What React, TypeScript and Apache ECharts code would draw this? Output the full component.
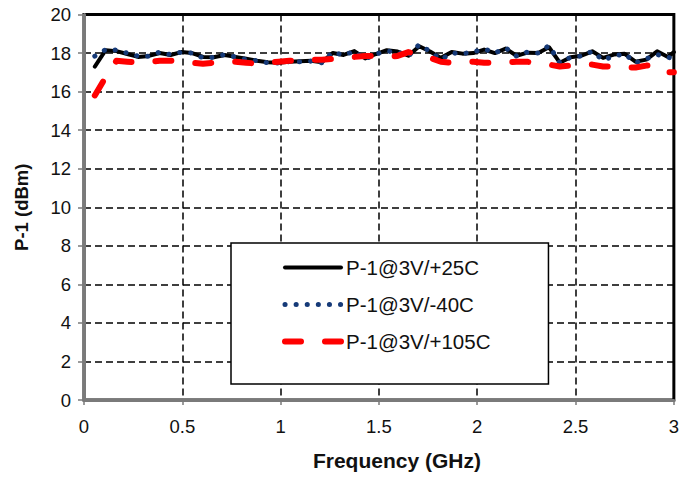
import React, { useEffect, useRef } from "react";
import * as echarts from "echarts";

const freqGHz = [
  0.055, 0.11, 0.165, 0.22, 0.275, 0.33, 0.385, 0.44, 0.495, 0.55,
  0.605, 0.66, 0.715, 0.77, 0.825, 0.88, 0.935, 0.99, 1.045, 1.1,
  1.155, 1.21, 1.265, 1.32, 1.375, 1.43, 1.485, 1.54, 1.595, 1.65,
  1.705, 1.76, 1.815, 1.87, 1.925, 1.98, 2.035, 2.09, 2.145, 2.2,
  2.255, 2.31, 2.365, 2.42, 2.475, 2.53, 2.585, 2.64, 2.695, 2.75,
  2.805, 2.86, 2.915, 2.97, 3.0,
];

const p1_25C = [
  17.3, 18.15, 18.1, 17.95, 17.8, 17.85, 18.0, 17.9, 18.05, 18.0,
  17.8, 17.78, 17.9, 17.8, 17.7, 17.6, 17.52, 17.5, 17.55, 17.58,
  17.6, 17.52, 18.0, 17.9, 18.1, 17.72, 17.95, 18.15, 18.08, 17.86,
  18.35, 18.08, 17.75, 18.05, 17.97, 18.0, 18.18, 18.0, 18.23, 17.86,
  18.02, 18.0, 18.3, 17.5, 17.78, 17.86, 18.09, 17.75, 17.92, 17.96,
  17.55, 17.66, 18.09, 17.8, 18.05,
];

const p1_m40C = [
  17.84, 18.18, 18.15, 18.0, 17.84, 17.84, 18.05, 17.92, 18.05, 18.0,
  17.75, 17.78, 17.92, 17.8, 17.66, 17.6, 17.49, 17.49, 17.55, 17.55,
  17.58, 17.49, 18.05, 17.89, 18.09, 17.69, 17.95, 18.1, 18.05, 17.84,
  18.44, 18.09, 17.66, 18.0, 17.97, 18.05, 18.22, 18.0, 18.27, 17.84,
  18.05, 18.0, 18.39, 17.49, 17.78, 17.84, 18.09, 17.63, 17.84, 17.96,
  17.49, 17.7, 17.92, 17.78, 17.7,
];

const p1_105C = [
  15.8, 16.75, 17.6, 17.55, 17.5, 17.55, 17.6, 17.6, 17.55, 17.5,
  17.45, 17.5, 17.55, 17.55, 17.5, 17.45, 17.5, 17.55, 17.6, 17.6,
  17.65, 17.65, 17.7, 17.75, 17.8, 17.85, 17.85, 17.8, 17.85, 18.05,
  17.95, 17.75, 17.55, 17.5, 17.5, 17.55, 17.5, 17.5, 17.5, 17.55,
  17.55, 17.45, 17.4, 17.3, 17.35, 17.4, 17.4, 17.3, 17.3, 17.25,
  17.25, 17.35, 17.35, 17.0, 17.0,
];

const seriesNames = ["P-1@3V/+25C", "P-1@3V/-40C", "P-1@3V/+105C"];

const FONT = "'Liberation Sans', Arial, sans-serif";

const pair = (ys: number[]) => freqGHz.map((x, i) => [x, ys[i]]);

export default function App() {
  const ref = useRef<HTMLDivElement>(null);
  useEffect(() => {
    if (!ref.current) return;
    const chart = echarts.init(ref.current, undefined, { renderer: "svg" });
    const splitLine = {
      show: true,
      lineStyle: { color: "#000", width: 1.5, type: [7, 4] as any },
    };
    chart.setOption({
      animation: false,
      backgroundColor: "#fff",
      textStyle: { fontFamily: FONT },
      grid: {
        left: 84,
        right: 6,
        top: 14.5,
        bottom: 77,
        show: true,
        borderColor: "#000",
        borderWidth: 3,
        backgroundColor: "#fff",
      },
      xAxis: {
        type: "value",
        min: 0,
        max: 3,
        interval: 0.5,
        name: "Frequency (GHz)",
        nameLocation: "middle",
        nameGap: 50,
        nameTextStyle: {
          fontSize: 21,
          fontWeight: "bold",
          color: "#111",
          fontFamily: FONT,
          padding: [0, 0, 0, 36],
        },
        axisLine: { show: true, onZero: false, lineStyle: { color: "#7a7a7a", width: 3 } },
        axisTick: { show: true, length: 5, lineStyle: { color: "#7a7a7a", width: 1.5 } },
        axisLabel: { fontSize: 18.5, color: "#111", margin: 17, fontFamily: FONT },
        splitLine,
      },
      yAxis: {
        type: "value",
        min: 0,
        max: 20,
        interval: 2,
        name: "P-1 (dBm)",
        nameLocation: "middle",
        nameGap: 53,
        nameTextStyle: { fontSize: 18.5, fontWeight: "bold", color: "#111", fontFamily: FONT },
        axisLine: { show: true, onZero: false, lineStyle: { color: "#7a7a7a", width: 3 } },
        axisTick: { show: true, length: 6, lineStyle: { color: "#7a7a7a", width: 1.5 } },
        axisLabel: { fontSize: 18.5, color: "#111", margin: 13, fontFamily: FONT },
        splitLine,
      },
      legend: {
        data: seriesNames,
        orient: "vertical",
        left: 231,
        top: 243,
        padding: [14, 58, 32, 51],
        itemWidth: 56,
        itemHeight: 14,
        itemGap: 16,
        backgroundColor: "#fff",
        borderColor: "#000",
        borderWidth: 1.5,
        borderRadius: 0,
        lineStyle: { width: "inherit" as any },
        itemStyle: { opacity: 0 },
        textStyle: { fontSize: 20.5, color: "#111", fontFamily: FONT },
      },
      series: [
        {
          name: seriesNames[0],
          type: "line",
          data: pair(p1_25C),
          symbol: "none",
          z: 2,
          lineStyle: { color: "#000", width: 4, join: "round", cap: "round" },
          itemStyle: { color: "#000" },
        },
        {
          name: seriesNames[1],
          type: "line",
          data: pair(p1_m40C),
          symbol: "none",
          z: 3,
          lineStyle: { color: "#163a78", width: 5, type: [0.1, 11] as any, cap: "round", join: "round" },
          itemStyle: { color: "#163a78" },
        },
        {
          name: seriesNames[2],
          type: "line",
          data: pair(p1_105C),
          symbol: "none",
          z: 4,
          lineStyle: { color: "#ff0000", width: 6, type: [16, 24] as any, cap: "round", join: "round" },
          itemStyle: { color: "#ff0000" },
        },
      ],
    });
    return () => chart.dispose();
  }, []);
  return (
    <div
      ref={ref}
      style={{ position: "fixed", left: 0, top: 0, width: 682, height: 477, background: "#fff" }}
    />
  );
}
